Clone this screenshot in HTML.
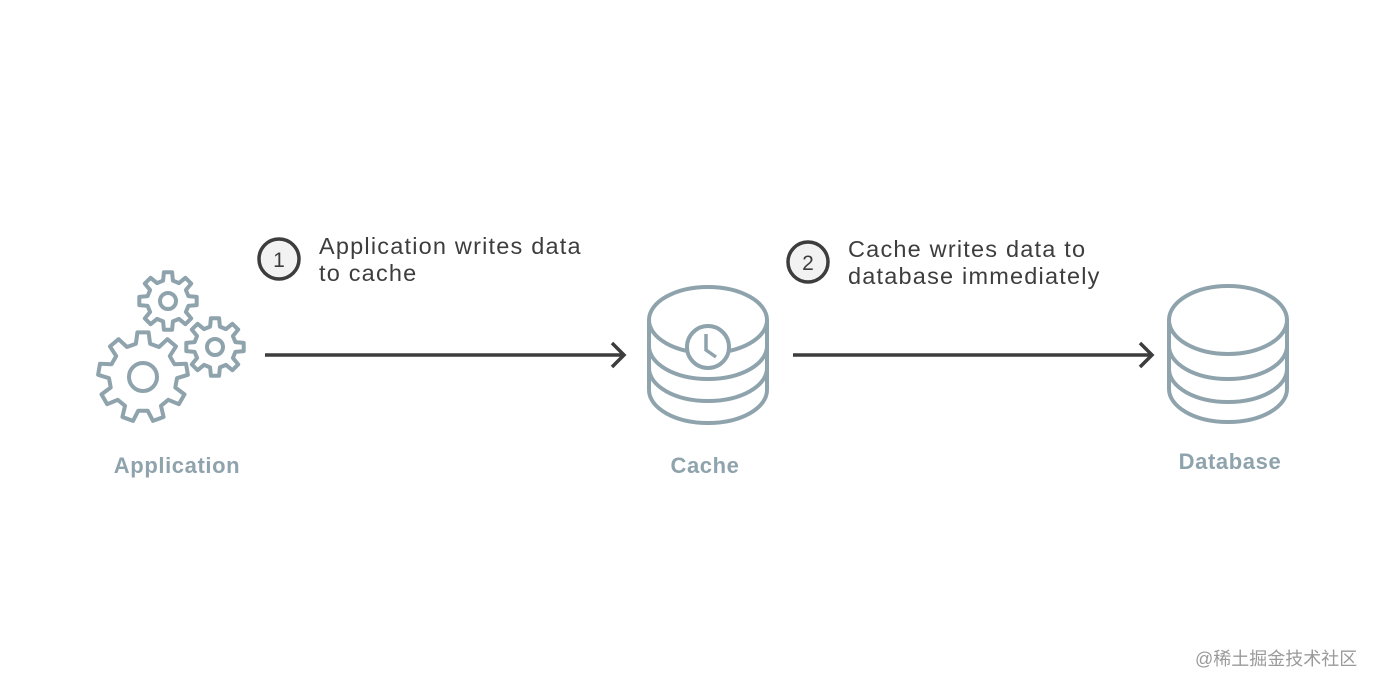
<!DOCTYPE html>
<html><head><meta charset="utf-8"><style>
html,body{margin:0;padding:0;background:#fff;}
body{width:1376px;height:686px;position:relative;overflow:hidden;font-family:"Liberation Sans",sans-serif;}
.t{position:absolute;color:#3d3d3d;font-size:23.5px;line-height:27px;letter-spacing:1.2px;}
.l{position:absolute;color:#8fa3ad;font-size:22px;font-weight:bold;letter-spacing:0.6px;transform:translateX(-50%);}
</style></head><body>
<svg width="1376" height="686" style="position:absolute;left:0;top:0">
<g fill="none" stroke="#8fa3ad" stroke-width="4" stroke-linejoin="round">
<path id="g1"/><path id="g2"/><path id="g3"/>
<circle cx="143" cy="377" r="14"/><circle cx="168" cy="301" r="8"/><circle cx="215" cy="347" r="8"/>
</g>
<g fill="none" stroke="#8fa3ad" stroke-width="4">
<ellipse cx="708" cy="320" rx="59" ry="33"/>
<path d="M649 320 V390 A59 33 0 0 0 767 390 V320"/>
<path d="M649 346 A59 33 0 0 0 767 346"/>
<path d="M649 368 A59 33 0 0 0 767 368"/>
<circle cx="708" cy="347" r="21" fill="#fff"/>
<path d="M706 334 V350 L716 357" stroke-width="3.5"/>
<ellipse cx="1228" cy="320" rx="59" ry="34"/>
<path d="M1169 320 V389 A59 33 0 0 0 1287 389 V320"/>
<path d="M1169 346 A59 33 0 0 0 1287 346"/>
<path d="M1169 369 A59 33 0 0 0 1287 369"/>
</g>
<g stroke="#3d3d3d" stroke-width="3.5" fill="none">
<line x1="265" y1="355" x2="623" y2="355"/>
<path d="M612 343 L624 355 L612 367"/>
<line x1="793" y1="355" x2="1151" y2="355"/>
<path d="M1140 343 L1152 355 L1140 367"/>
<circle cx="279" cy="259" r="20" fill="#f2f2f2"/>
<circle cx="808" cy="262" r="20" fill="#f2f2f2"/>
</g>
<text x="279" y="267" text-anchor="middle" font-family="Liberation Sans" font-size="21" fill="#3d3d3d">1</text>
<text x="808" y="270" text-anchor="middle" font-family="Liberation Sans" font-size="21" fill="#3d3d3d">2</text>
</svg>
<div class="t" style="left:319px;top:233px">Application writes data<br>to cache</div>
<div class="t" style="left:848px;top:236px">Cache writes data to<br>database immediately</div>
<div class="l" style="left:177px;top:453px">Application</div>
<div class="l" style="left:705px;top:453px">Cache</div>
<div class="l" style="left:1230px;top:449px">Database</div>
<div style="position:absolute;left:1195px;top:645px;font-size:18px;color:#9a9a9a;font-family:'Liberation Sans','Noto Sans CJK SC',sans-serif">@稀土掘金技术社区</div>
<script>
function gear(id,cx,cy,ro,ri,n){var p=[],s=Math.PI*2/n;for(var i=0;i<n;i++){var a=i*s-Math.PI/2;var pts=[[ri,a-s*0.3],[ro,a-s*0.18],[ro,a+s*0.18],[ri,a+s*0.3]];pts.forEach(function(q){p.push((cx+q[0]*Math.cos(q[1])).toFixed(1)+' '+(cy+q[0]*Math.sin(q[1])).toFixed(1));});}
document.getElementById(id).setAttribute('d','M'+p.join(' L')+' Z');}
gear('g1',143,377,45,34,9);gear('g2',168,301,29,21,8);gear('g3',215,347,29,21,8);
</script>
</body></html>
